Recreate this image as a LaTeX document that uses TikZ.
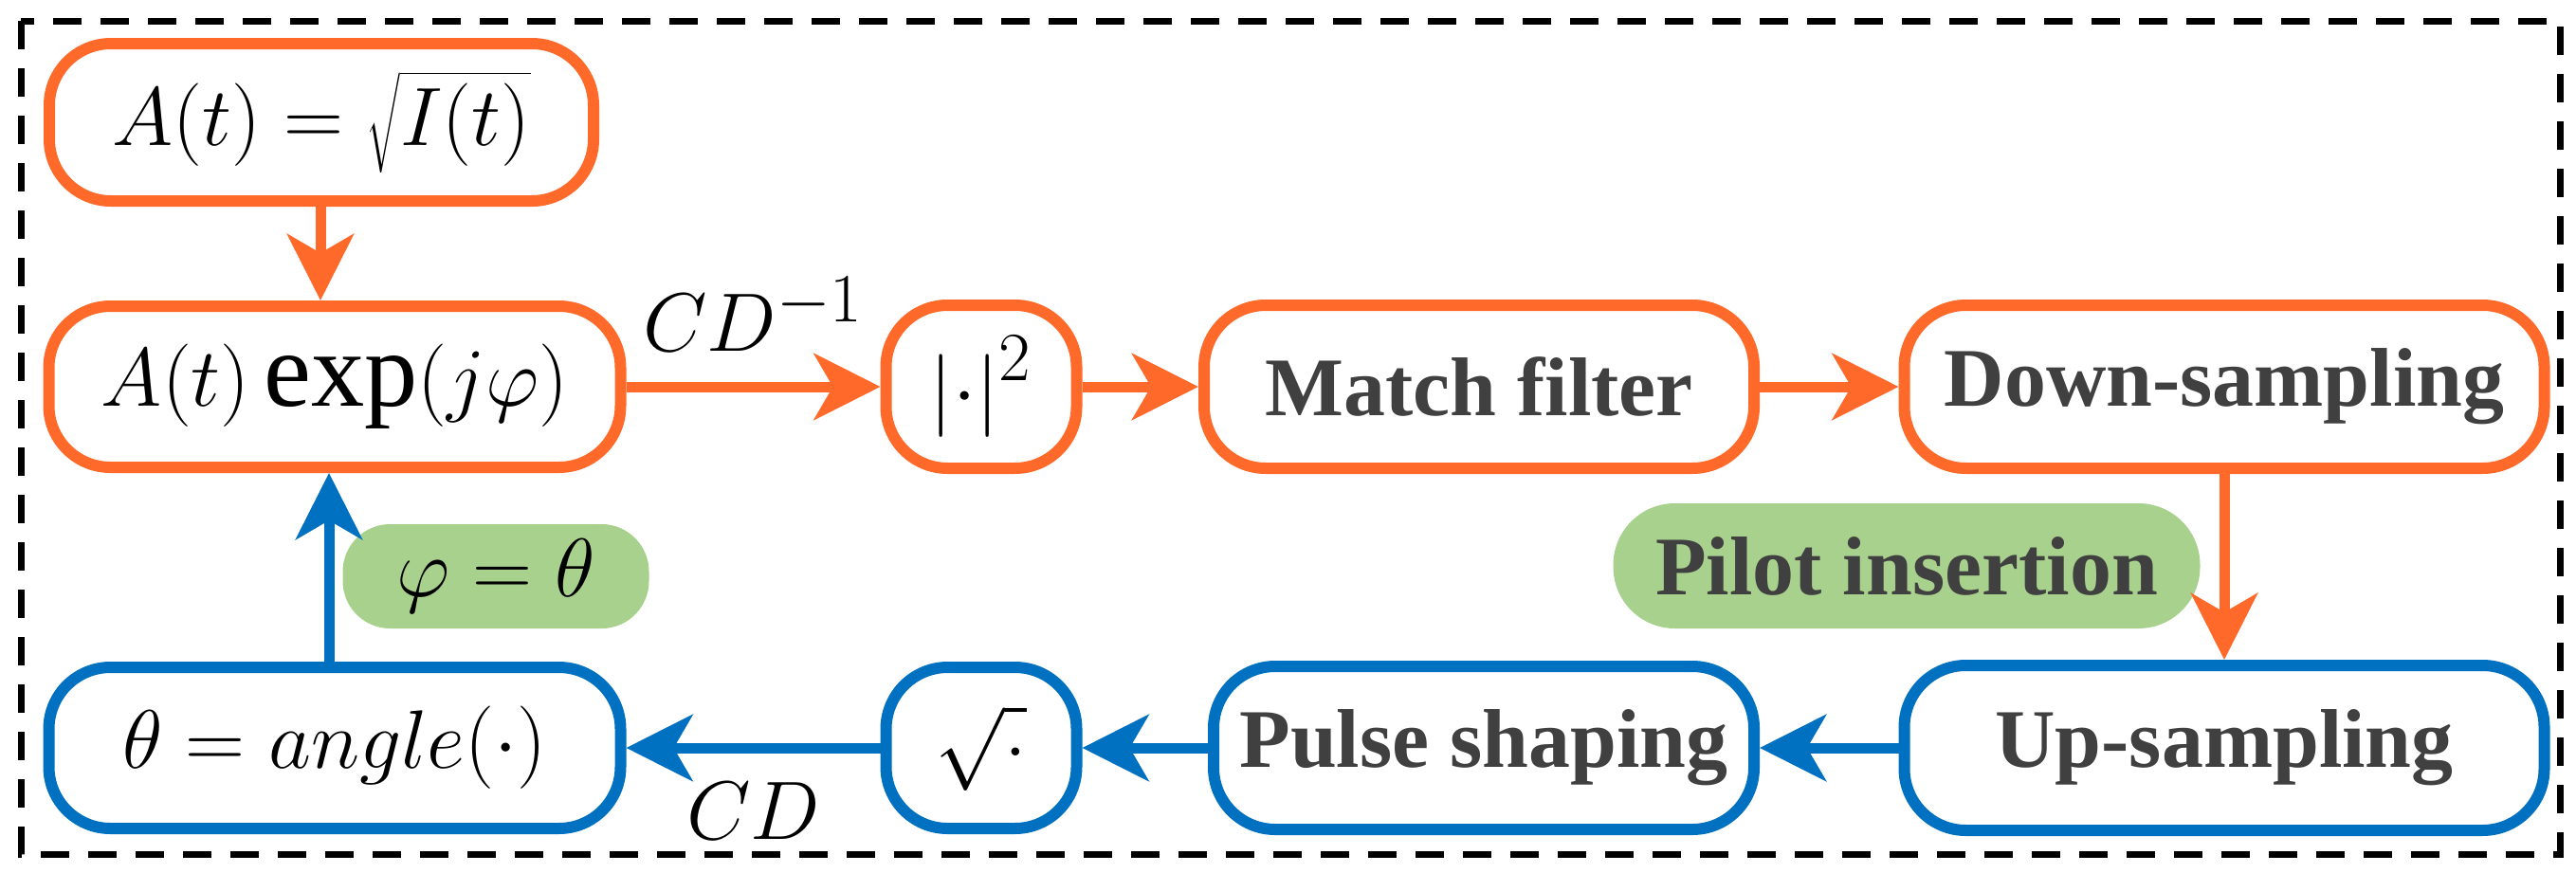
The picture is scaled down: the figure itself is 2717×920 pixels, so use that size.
\documentclass[tikz,border=0pt]{standalone}
\usepackage{fontspec}
\setmainfont{Liberation Serif}
\usetikzlibrary{arrows.meta}
\definecolor{org}{HTML}{FF6A2B}
\definecolor{blu}{HTML}{0070C0}
\definecolor{grn}{HTML}{A9D18E}
\definecolor{txt}{HTML}{404040}
\begin{document}
\begin{tikzpicture}[x=0.1mm,y=-0.1mm,
  box/.style={draw, line width=1.2mm, rounded corners=6.5mm, fill=white, inner sep=0pt},
  ob/.style={box, draw=org}, bb/.style={box, draw=blu},
  lbl/.style={font=\fontsize{25}{28}\selectfont\bfseries, text=txt},
  mth/.style={font=\fontsize{32}{34}\selectfont},
  gr/.style={fill=grn, rounded corners=5mm, inner sep=0pt},
  oa/.style={draw=org, line width=1.1mm, -{Stealth[length=7mm,width=7mm,inset=2mm]}},
  ba/.style={draw=blu, line width=1.1mm, -{Stealth[length=7mm,width=7mm,inset=2mm]}}]
\useasboundingbox (0,0) rectangle (2717,920);
\draw[line width=0.7mm, dash pattern=on 3mm off 2mm] (22,22) rectangle (2700,901);
\node[ob, minimum width=57.4mm, minimum height=16.6mm, mth] (b1) at (339,129) {$A(t)=\sqrt{I(t)}$};
\node[ob, minimum width=60.3mm, minimum height=17mm, mth] (b2) at (353,408) {$A(t)\exp(j\varphi)$};
\node[ob, minimum width=20.1mm, minimum height=17.2mm, mth] (sq) at (1035,408) {$\left|\cdot\right|^2$};
\node[ob, minimum width=58mm, minimum height=17.2mm, lbl] (mf) at (1560,408) {Match filter};
\node[ob, minimum width=67.5mm, minimum height=17.2mm, lbl] (ds) at (2346,408) {Down-sampling};
\node[gr, minimum width=61.9mm, minimum height=13.2mm, rounded corners=6.5mm, lbl] (pi) at (2011,597) {Pilot insertion};
\node[bb, minimum width=67.5mm, minimum height=17.4mm, lbl] (us) at (2346,789) {Up-sampling};
\node[bb, minimum width=57mm, minimum height=17.2mm, lbl] (ps) at (1565,789) {Pulse shaping};
\node[bb, minimum width=20.1mm, minimum height=17mm, mth] (sr) at (1035,789) {$\sqrt{.}$};
\node[bb, minimum width=60.3mm, minimum height=17mm, mth] (th) at (353,789) {$\theta=angle(\cdot)$};
\node[gr, minimum width=32.3mm, minimum height=11mm, mth] (pt) at (523,608) {$\varphi=\theta$};
\draw[oa] (b1.south -| 338,0) -- (b2.north -| 338,0);
\draw[oa] (b2.east) -- node[above=2mm, mth]{$CD^{-1}$} (sq.west);
\draw[oa] (sq.east) -- (mf.west);
\draw[oa] (mf.east) -- (ds.west);
\draw[oa] (ds.south) -- (us.north);
\draw[ba] (us.west) -- (ps.east);
\draw[ba] (ps.west) -- (sr.east);
\draw[ba] (sr.west) -- node[below=2mm, mth]{$CD$} (th.east);
\draw[ba] (th.north -| 347,0) -- (b2.south -| 347,0);
\end{tikzpicture}
\end{document}
